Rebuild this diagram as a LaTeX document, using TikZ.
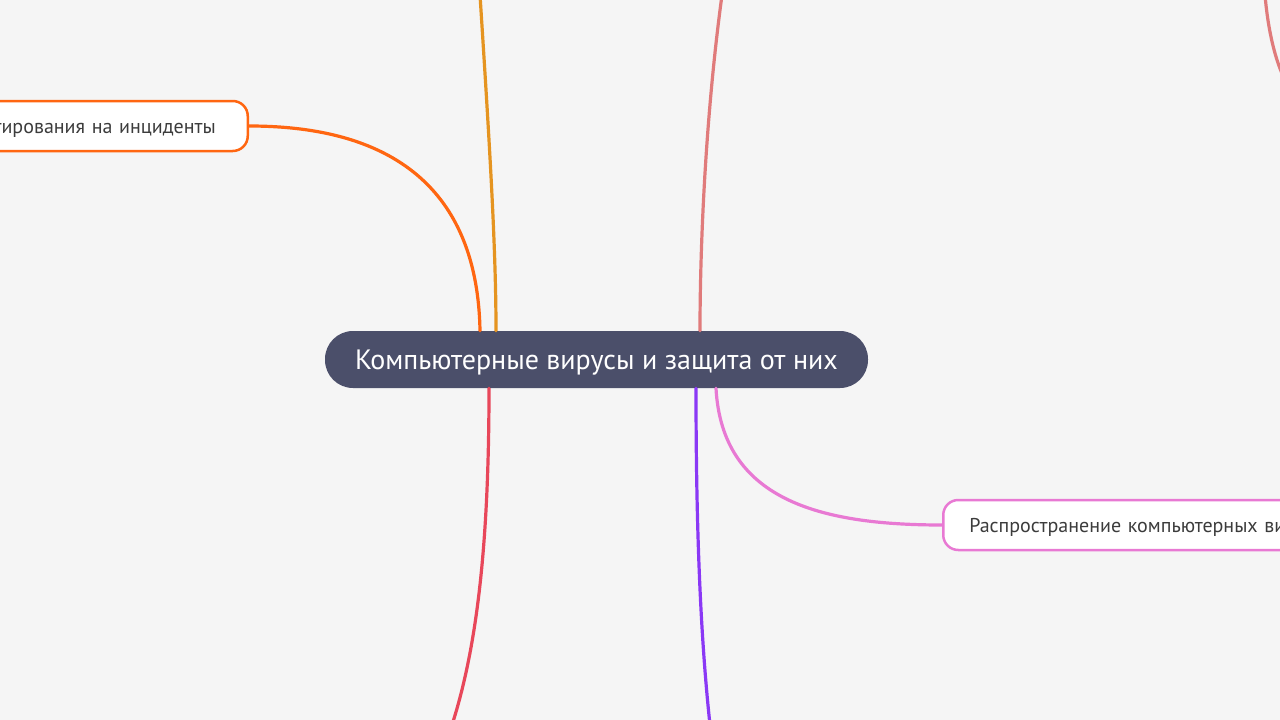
\documentclass[tikz,border=0pt]{standalone}
\usepackage{fontspec}
\setmainfont{PT Sans}
\usepackage{tikz}
\definecolor{bgray}{RGB}{245,245,245}
\definecolor{rootfill}{RGB}{75,79,106}
\definecolor{leaftext}{RGB}{60,60,60}
\definecolor{myorange}{RGB}{255,102,17}
\definecolor{mygold}{RGB}{229,148,32}
\definecolor{mysalmon}{RGB}{224,123,123}
\definecolor{myred}{RGB}{232,71,90}
\definecolor{mypurple}{RGB}{138,56,245}
\definecolor{mypink}{RGB}{232,121,211}
\tikzset{
    root/.style={draw=none, fill=rootfill, text=white, rounded corners=28, minimum height=57, minimum width=543, inner xsep=30, text height=26, text depth=6, font=\fontsize{28}{32}\selectfont},
    leaf/.style={draw, fill=white, line width=2.5, rounded corners=15, minimum height=50, text=leaftext, text height=20, text depth=4.5, font=\fontsize{20}{24}\selectfont},
    branch/.style={line width=3.2, line cap=round}
}
\begin{document}
\begin{tikzpicture}[x=1pt, y=-1pt]
    \fill[bgray] (0,0) rectangle (1280,720);
    \useasboundingbox (0,0) rectangle (1280,720);

    \node[root] (virus) at (596.5,359.5) {Компьютерные вирусы и защита от них};
    \node[leaf, draw=myorange, anchor=east, text width=300, align=right, inner xsep=32] (incid) at (249,126) {тирования на инциденты};
    \node[leaf, draw=mypink, anchor=west, text width=400, align=left, inner xsep=26] (spread) at (942,525) {Распространение компьютерных ви};

    \coordinate (goldtop) at (480,-5);
    \coordinate (salmtop) at (722,-5);
    \coordinate (redbot) at (452,725);
    \coordinate (purpbot) at (710,725);
    \coordinate (cornA) at (1265,-5);
    \coordinate (cornB) at (1285,80);

    \draw[branch, myorange] (incid.east) .. controls (420,126) and (478,215) .. (virus.north -| 480,0);
    \draw[branch, mygold] (goldtop) .. controls (490,150) and (496,250) .. (virus.north -| 496,0);
    \draw[branch, mysalmon] (salmtop) .. controls (705,120) and (700,250) .. (virus.north -| 700,0);
    \draw[branch, mysalmon] (cornA) .. controls (1268,30) and (1275,60) .. (cornB);
    \draw[branch, myred] (virus.south -| 489,0) .. controls (489,550) and (476,650) .. (redbot);
    \draw[branch, mypurple] (virus.south -| 696,0) .. controls (696,550) and (702,650) .. (purpbot);
    \draw[branch, mypink] (virus.south -| 716,0) .. controls (722,500) and (820,525) .. (spread.west);
\end{tikzpicture}
\end{document}
